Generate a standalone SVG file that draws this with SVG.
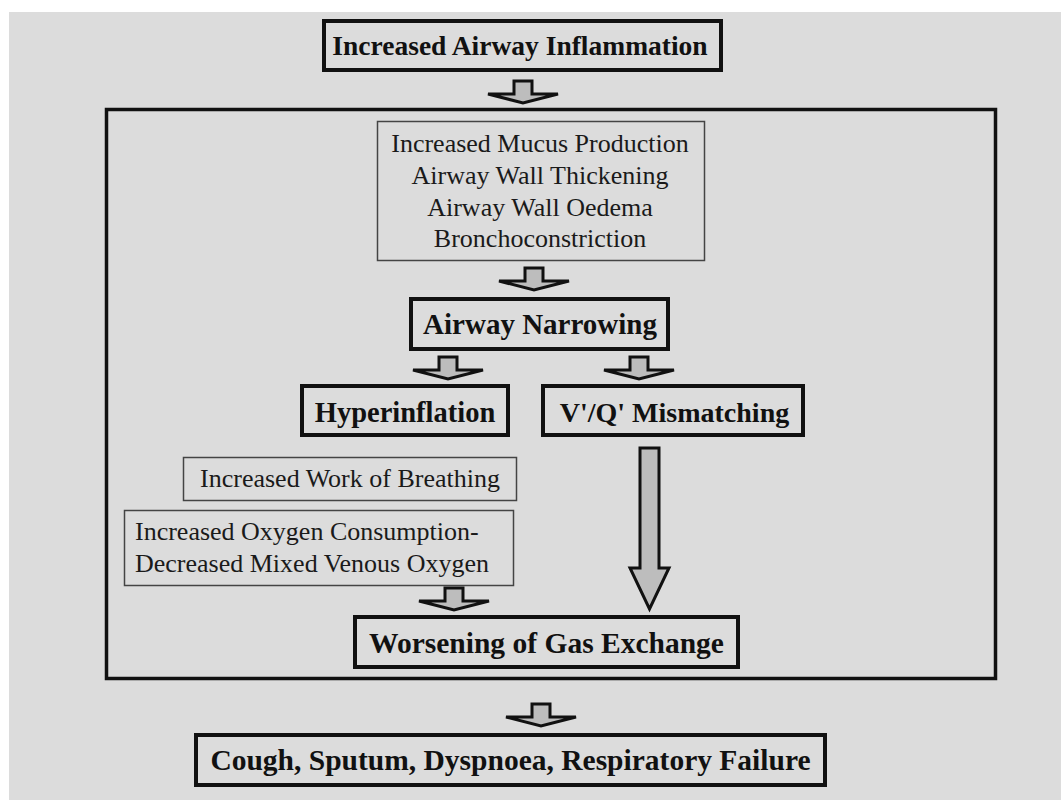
<svg xmlns="http://www.w3.org/2000/svg" width="1061" height="800" viewBox="0 0 1061 800">
<style>
.bg{fill:#dcdcdc}
.thick{fill:#dcdcdc;stroke:#111;stroke-width:4}
.thin{fill:#dcdcdc;stroke:#444;stroke-width:1.5}
.outer{fill:none;stroke:#111;stroke-width:3.5}
.b{font-family:"Liberation Serif","Times New Roman",serif;font-weight:bold;fill:#111;text-anchor:middle}
.r{font-family:"Liberation Serif","Times New Roman",serif;font-size:26px;fill:#1a1a1a}
.arr{fill:#bdbdbd;stroke:#111;stroke-width:3;stroke-linejoin:miter}
</style>
<rect x="0" y="0" width="1061" height="800" fill="#ffffff"/>
<rect class="bg" x="9" y="12" width="1052" height="788"/>
<rect id="container" class="outer" x="106.5" y="109.5" width="889" height="569"/>
<g id="n-inflammation">
<rect class="thick" x="324" y="21" width="397" height="49"/>
<text class="b" x="520" y="55" font-size="27.5">Increased Airway Inflammation</text>
</g>
<g id="n-mucus">
<rect class="thin" x="377.5" y="121.5" width="327" height="139"/>
<text class="r" x="540" y="152" text-anchor="middle">Increased Mucus Production</text>
<text class="r" x="540" y="184" text-anchor="middle">Airway Wall Thickening</text>
<text class="r" x="540" y="216" text-anchor="middle">Airway Wall Oedema</text>
<text class="r" x="540" y="247" text-anchor="middle">Bronchoconstriction</text>
</g>
<g id="n-narrowing">
<rect class="thick" x="411" y="299" width="257" height="50"/>
<text class="b" x="540" y="334" font-size="29">Airway Narrowing</text>
</g>
<g id="n-hyper">
<rect class="thick" x="302" y="386" width="206" height="49"/>
<text class="b" x="405" y="422" font-size="28.5">Hyperinflation</text>
</g>
<g id="n-vq">
<rect class="thick" x="543" y="386" width="260" height="49"/>
<text class="b" x="674.5" y="422" font-size="28">V'/Q' Mismatching</text>
</g>
<g id="n-work">
<rect class="thin" x="183.5" y="457.5" width="333" height="43"/>
<text class="r" x="350" y="487" text-anchor="middle">Increased Work of Breathing</text>
</g>
<g id="n-oxygen">
<rect class="thin" x="124.5" y="510.5" width="389" height="75"/>
<text class="r" x="135" y="540">Increased Oxygen Consumption-</text>
<text class="r" x="135" y="572">Decreased Mixed Venous Oxygen</text>
</g>
<g id="n-gas">
<rect class="thick" x="355" y="617" width="383" height="50"/>
<text class="b" x="546.5" y="653" font-size="29.5">Worsening of Gas Exchange</text>
</g>
<g id="n-outcome">
<rect class="thick" x="196" y="735" width="629" height="50"/>
<text class="b" x="510.5" y="770" font-size="29.5">Cough, Sputum, Dyspnoea, Respiratory Failure</text>
</g>
<g id="connectors">
<path class="arr" d="M514,81 h18 v13 h26 l-35,9 l-35,-9 h26 z"/>
<path class="arr" d="M525,268 h18 v13 h26 l-35,9 l-35,-9 h26 z"/>
<path class="arr" d="M439,357 h18 v13 h26 l-35,9 l-35,-9 h26 z"/>
<path class="arr" d="M630,357 h18 v13 h26 l-35,9 l-35,-9 h26 z"/>
<path class="arr" d="M445,588 h18 v13 h26 l-35,9 l-35,-9 h26 z"/>
<path class="arr" d="M532,704 h18 v13 h26 l-35,9 l-35,-9 h26 z"/>
<path class="arr" stroke-width="4" d="M640,448 H659 V568 H669 L649.5,609 L630,568 H640 Z"/>
</g>
</svg>
